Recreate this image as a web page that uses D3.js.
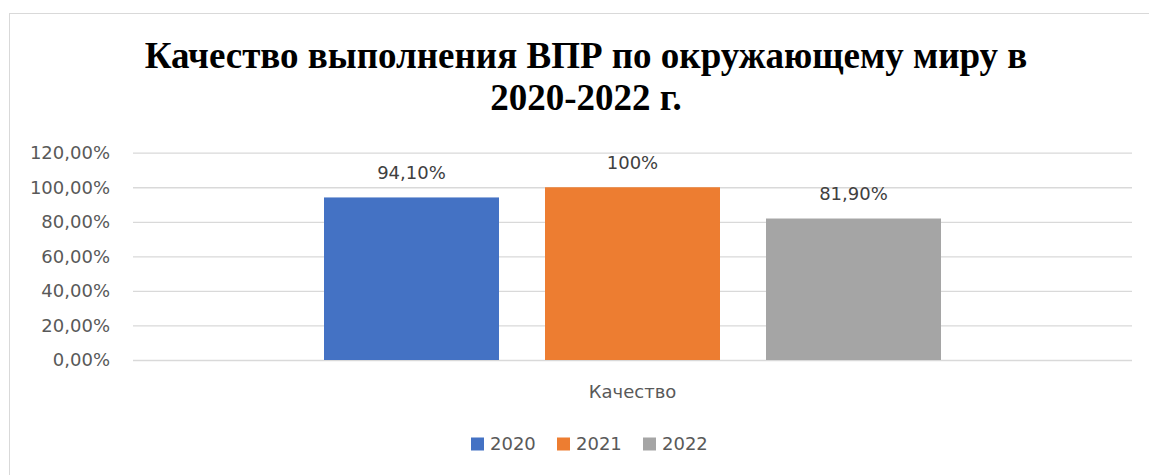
<!DOCTYPE html>
<html><head><meta charset="utf-8">
<script src="https://cdn.jsdelivr.net/npm/d3@7"></script>
<style>body{margin:0;background:#fff}svg{display:block}</style>
</head><body>
<svg id="c" width="1149" height="475"></svg>
<script>
const titleLines = ["Качество выполнения ВПР по окружающему миру в", "2020-2022 г."];
const category = ["Качество"];
const seriesNames = ["2020", "2021", "2022"];
const seriesValues = [0.941, 1.0, 0.819];
const valueLabels = ["94,10%", "100%", "81,90%"];
const yTicks = [0, 0.2, 0.4, 0.6, 0.8, 1.0, 1.2];
const colors = ["#4472C4", "#ED7D31", "#A5A5A5"];

const svg = d3.select("#c");
const font = "'DejaVu Sans', sans-serif";
const fs = "18px";

svg.append("rect").attr("x", 9.5).attr("y", 13.5).attr("width", 1160).attr("height", 480)
  .attr("fill", "#fff").attr("stroke", "#d9d9d9").attr("stroke-width", 1);

const plot = {l: 133, r: 1132, t: 152.7, b: 360};
const y = d3.scaleLinear().domain([0, 1.2]).range([plot.b, plot.t]);
const x0 = d3.scaleBand().domain(category).range([plot.l, plot.r]).paddingInner(0).paddingOuter(0);
const clusterW = 617;
const x1 = d3.scaleBand().domain(seriesNames)
  .range([(x0.bandwidth() - clusterW) / 2, (x0.bandwidth() + clusterW) / 2])
  .paddingInner(46 / (175 + 46)).paddingOuter(0);

// gridlines
const yAxis = d3.axisLeft(y).tickValues(yTicks).tickSize(-(plot.r - plot.l))
  .tickFormat(d => d3.format(".2f")(d * 100).replace(".", ",") + "%");
const ga = svg.append("g").attr("transform", `translate(${plot.l},0)`).call(yAxis);
ga.select(".domain").remove();
ga.selectAll(".tick line").attr("stroke", "#d9d9d9").attr("stroke-width", 1.3);
ga.selectAll(".tick text").attr("x", -23).attr("fill", "#595959")
  .style("font-family", font).style("font-size", fs);

// bars
const g = svg.append("g").attr("transform", `translate(${x0(category[0])},0)`);
g.selectAll("rect.bar").data(seriesValues).join("rect")
  .attr("x", (d, i) => x1(seriesNames[i]))
  .attr("width", x1.bandwidth())
  .attr("y", d => y(d))
  .attr("height", d => y(0) - y(d))
  .attr("fill", (d, i) => colors[i]);
g.selectAll("text.lbl").data(seriesValues).join("text")
  .attr("x", (d, i) => x1(seriesNames[i]) + x1.bandwidth() / 2)
  .attr("y", d => y(d) - 25)
  .attr("dy", "0.35em")
  .attr("text-anchor", "middle")
  .attr("fill", "#404040")
  .style("font-family", font).style("font-size", fs)
  .text((d, i) => valueLabels[i]);

// category axis label
svg.append("text").attr("x", x0(category[0]) + x0.bandwidth() / 2).attr("y", 392).attr("dy", "0.35em")
  .attr("text-anchor", "middle").attr("fill", "#595959")
  .style("font-family", font).style("font-size", fs).text(category[0]);

// title
svg.append("text").attr("text-anchor", "middle").attr("fill", "#000")
  .style("font-family", "'Liberation Serif', 'Times New Roman', serif")
  .style("font-size", "37px").style("font-weight", "bold")
  .selectAll("tspan").data(titleLines).join("tspan")
  .attr("x", 586).attr("y", (d, i) => 68 + i * 42).text(d => d);

// legend
const legendX = [471, 557, 643];
const lg = svg.append("g");
seriesNames.forEach((s, i) => {
  lg.append("rect").attr("x", legendX[i]).attr("y", 437.5).attr("width", 13).attr("height", 13).attr("fill", colors[i]);
  lg.append("text").attr("x", legendX[i] + 19).attr("y", 444).attr("dy", "0.35em")
    .attr("fill", "#595959").style("font-family", font).style("font-size", fs).text(s);
});
</script>
</body></html>
